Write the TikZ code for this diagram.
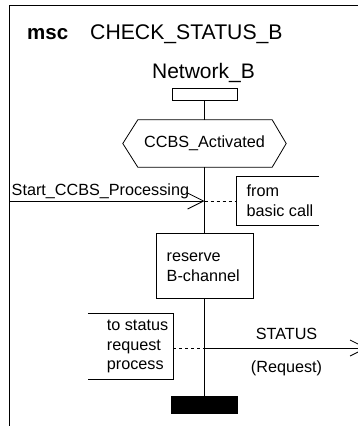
\documentclass[tikz,border=0pt]{standalone}
\usepackage{fontspec}
\setmainfont{Liberation Sans}
\usetikzlibrary{arrows.meta}
\tikzstyle{lbl}=[inner sep=0pt,font=\fontsize{16.2}{19.5}\selectfont]
\tikzstyle{blk}=[rectangle,draw=black,line width=0.8pt,inner sep=0pt]
\tikzstyle{cmt}=[rectangle,inner sep=0pt]
\tikzstyle{ln}=[line width=0.8pt]
\tikzstyle{dsh}=[line width=0.8pt,dash pattern=on 3pt off 3pt]
\tikzstyle{msg}=[line width=0.8pt,-{Straight Barb[length=16pt,width=16pt]}]

\begin{document}
\begin{tikzpicture}[x=1pt,y=-1pt]
    \useasboundingbox (0,0) rectangle (358,426);
    \clip (0,0) rectangle (358,426);
    \draw[ln] (9.5,426) -- (9.5,5) -- (358,5);
    \node[lbl,anchor=base west,font=\bfseries\fontsize{20.5}{24}\selectfont] (kw) at (27,39) {msc};
    \node[lbl,anchor=base west,font=\fontsize{21.2}{24}\selectfont] (title) at (90,39) {CHECK\_STATUS\_B};
    \node[lbl,anchor=base,font=\fontsize{21}{24}\selectfont] (inst) at (203.5,78.5) {Network\_B};
    \node[blk,minimum width=65pt,minimum height=12pt] (head) at (204.5,94) {};
    \node[lbl,minimum width=163pt,minimum height=47pt] (cond) at (204.5,143.5) {CCBS\_Activated};
    \draw[ln] (cond.west) -- ([xshift=15pt]cond.north west) -- ([xshift=-14pt]cond.north east)
        -- (cond.east) -- ([xshift=-14pt]cond.south east) -- ([xshift=15pt]cond.south west) -- cycle;
    \node[blk,minimum width=97pt,minimum height=65pt] (act) at (204.5,265.5) {};
    \node[lbl,anchor=base west,align=left] (acttxt) at (166.5,281.3) {reserve\\B-channel};
    \node[blk,fill=black,minimum width=66pt,minimum height=17pt] (stop) at (204.5,404.5) {};
    \draw[ln] (head) to (cond);
    \draw[ln] (cond) to (act);
    \draw[ln] (act) to (stop);

    \node[cmt,minimum width=82pt,minimum height=48pt] (frombox) at (278,201) {};
    \draw[ln] (frombox.north east) -- (frombox.north west) -- (frombox.south west) -- (frombox.south east);
    \node[lbl,anchor=base west,align=left] (fromtxt) at (246.5,216) {from\\basic call};
    \node[cmt,minimum width=85pt,minimum height=65pt] (tobox) at (130.5,346.5) {};
    \draw[ln] (tobox.north west) -- (tobox.north east) -- (tobox.south east) -- (tobox.south west);
    \node[lbl,anchor=base west,align=left] (totxt) at (106.7,369.7) {to status\\request\\process};

    \coordinate (envL) at (9.5,201);
    \coordinate (m1) at (204.5,201);
    \draw[msg] (envL) -- (m1);
    \node[lbl,anchor=base west] (startlbl) at (11.5,195) {Start\_CCBS\_Processing};
    \draw[dsh] (m1) -- (frombox.west);
    \coordinate (m2) at (204.5,348);
    \coordinate (envR) at (367,348);
    \draw[msg] (m2) -- (envR);
    \draw[dsh] (m2 -| tobox.east) -- (m2);
    \node[lbl,anchor=base] (statlbl) at (286.5,339.5) {STATUS};
    \node[lbl,anchor=base] (reqlbl) at (286.5,372) {(Request)};
\end{tikzpicture}
\end{document}
